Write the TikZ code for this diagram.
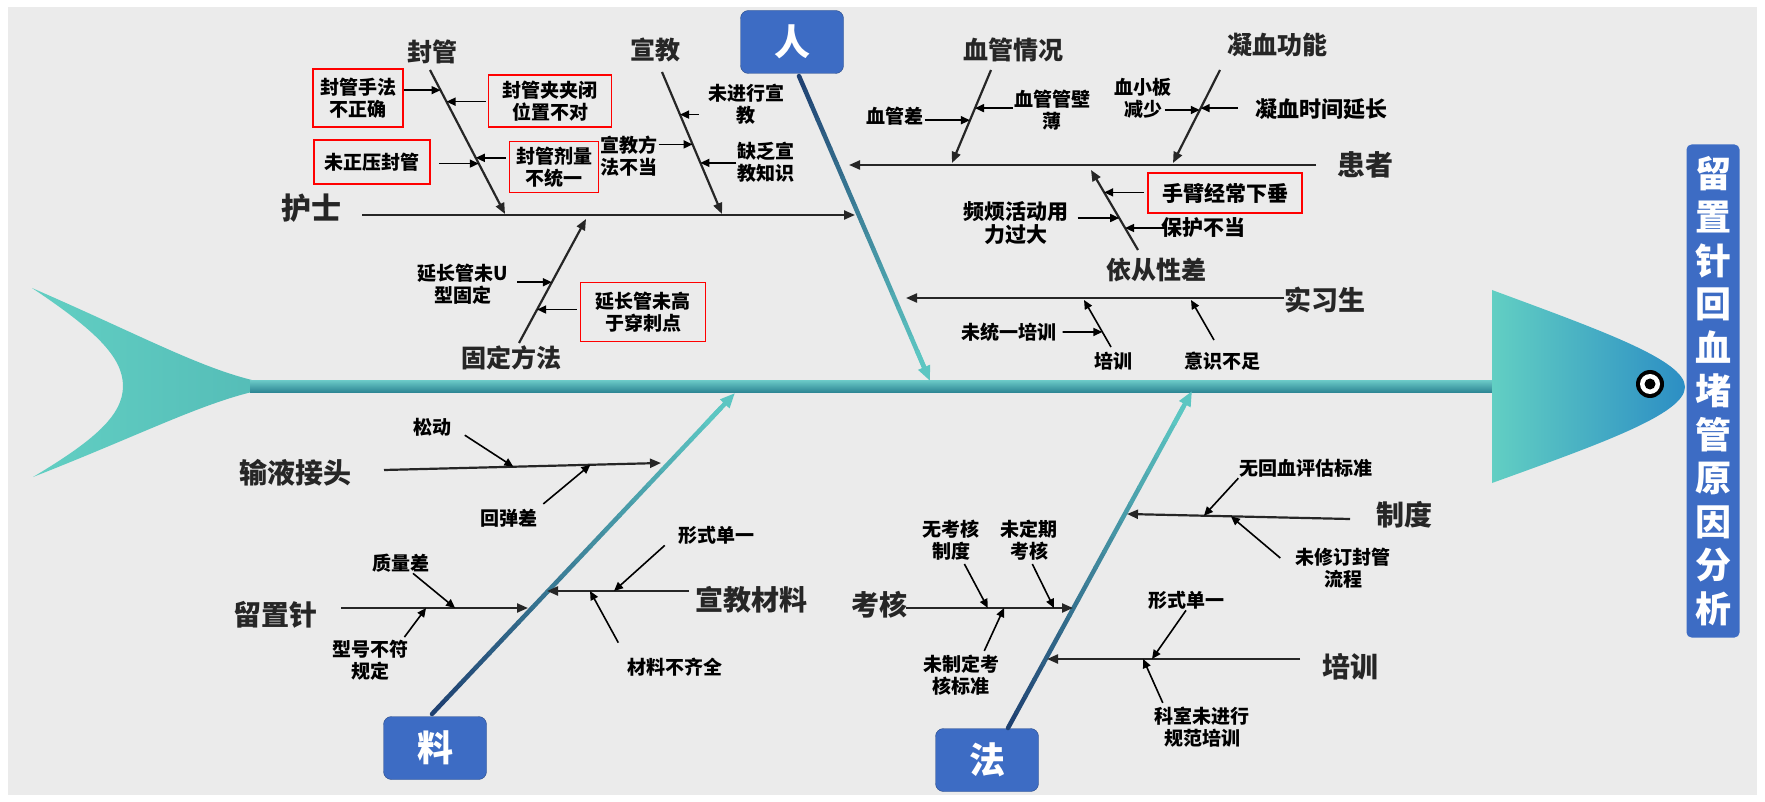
\documentclass[tikz,border=0pt]{standalone}
\usepackage{fontspec}
\setmainfont{Noto Sans CJK SC}
\usetikzlibrary{arrows.meta,positioning,calc}
\definecolor{bggray}{HTML}{EBEBEB}
\definecolor{fishteal}{HTML}{62CFC3}
\definecolor{fishblue}{HTML}{2C8EC4}
\definecolor{spinetop}{HTML}{6CCBC8}
\definecolor{spinebot}{HTML}{2E8795}
\definecolor{bonedark}{HTML}{1D3B6E}
\definecolor{bonelight}{HTML}{5CC6C2}
\definecolor{boxblue}{HTML}{3D6CC4}
\tikzset{
    % Category label (bone name)
    cat/.style={font=\bfseries\fontsize{25}{25}\selectfont, text=black!85, inner sep=1pt},
    catbig/.style={cat, font=\bfseries\fontsize{28}{28}\selectfont},
    % Cause text
    cause/.style={font=\bfseries\fontsize{19}{22}\selectfont, align=center, inner sep=1pt},
    % Highlighted cause
    redbox/.style={cause, draw=red, line width=1.8pt, inner sep=4pt},
    % Blue category box
    catbox/.style={fill=boxblue, draw=boxblue!70!black, rounded corners=8pt, text=white,
        font=\bfseries\fontsize{36}{36}\selectfont, minimum width=103pt, minimum height=63pt},
    % Branch line
    bone/.style={line width=2.2pt, black!85, -{Triangle[length=11pt,width=9pt]}},
    % Small cause arrow
    sub/.style={line width=1.6pt, black, -{Triangle[length=9pt,width=8pt]}}
}
\begin{document}
\begin{tikzpicture}[x=1pt,y=-1pt]
    \useasboundingbox (0,0) rectangle (1765,802);
    % Background
    \fill[white] (0,0) rectangle (1765,802);
    \fill[bggray] (8,7) rectangle (1757,795);

    % Tail, spine and head
    \shade[left color=fishteal, right color=fishteal!75!spinebot]
        (32,288) .. controls (140,335) and (200,368) .. (256,381) -- (256,391)
        .. controls (200,404) and (140,435) .. (33,477)
        .. controls (95,440) and (123,415) .. (123,386)
        .. controls (123,357) and (95,330) .. (32,288) -- cycle;
    \shade[top color=spinetop, bottom color=spinebot] (250,380) rectangle (1494,392);
    \shade[left color=fishteal, right color=fishblue]
        (1492,290) .. controls (1600,330) and (1685,360) .. (1685,387)
        .. controls (1685,414) and (1600,444) .. (1492,483) -- cycle;
    \fill[black] (1650,384) circle (14);
    \fill[white] (1650,384) circle (10);
    \fill[black] (1650,384) circle (5.5);

    % Title
    \node[fill=boxblue, rounded corners=5pt, text=white, align=center, inner sep=0pt,
        font=\bfseries\fontsize{36}{43.5}\selectfont, minimum width=53pt, minimum height=493pt]
        (title) at (1713,391) {留\\置\\针\\回\\血\\堵\\管\\原\\因\\分\\析};

    % Category boxes
    \node[catbox] (ren) at (792,42) {人};
    \node[catbox] (liao) at (435,748) {料};
    \node[catbox] (fa) at (987,760) {法};

    % Main bones, dark at the box and light at the spine
    \coordinate (ren1) at (799,76);   \coordinate (ren2) at (930,381);
    \coordinate (liao1) at (432,714); \coordinate (liao2) at (735,393);
    \coordinate (fa1) at (1008,728);  \coordinate (fa2) at (1192,391);
    \foreach \bstart/\bend in {ren1/ren2, liao1/liao2, fa1/fa2} {
        \foreach \i in {1,...,20} {
            \pgfmathsetmacro\pct{5*\i}
            \draw[line width=4.5pt, line cap=round, color=bonelight!\pct!bonedark]
                ($(\bstart)!{(\i-1)/21}!(\bend)$) -- ($(\bstart)!{\i/21}!(\bend)$);
        }
        \draw[line width=4.5pt, bonelight, -{Triangle[length=15pt,width=12pt]}]
            ($(\bstart)!.9!(\bend)$) -- (\bend);
    }

    % ---- 人: 护士 ----
    \node[cat, font=\bfseries\fontsize{30}{30}\selectfont] (hushi) at (311,208) {护士};
    \coordinate (hs1) at (362,215); \coordinate (hs2) at (855,215);
    \draw[bone] (hs1) -- (hs2);

    % 封管
    \coordinate (fg1) at (430,70); \coordinate (fg2) at (505,214);
    \node[cat] (fengguan) at (432,52) {封管};
    \draw[bone] (fg1) -- (fg2) coordinate[pos=.14] (fg-a) coordinate[pos=.22] (fg-b)
        coordinate[pos=.61] (fg-c) coordinate[pos=.65] (fg-d);
    \node[redbox, minimum width=90pt, minimum height=58pt] (fg-sf) at (358,98) {封管手法\\不正确};
    \draw[sub] (fg-sf.east |- fg-a) -- (fg-a);
    \node[redbox, minimum width=123pt, minimum height=52pt] (fg-jb) at (550,101) {封管夹夹闭\\位置不对};
    \draw[sub, shorten <=2pt] (fg-jb.west |- fg-b) -- (fg-b);
    \node[redbox, minimum width=116pt, minimum height=44pt] (fg-zy) at (372,162) {未正压封管};
    \draw[sub, shorten <=8pt] (fg-zy.east |- fg-d) -- (fg-d);
    \node[redbox, minimum width=89pt, minimum height=51pt] (fg-jl) at (554,167) {封管剂量\\不统一};
    \draw[sub, shorten <=3pt] (fg-jl.west |- fg-c) -- (fg-c);

    % 宣教
    \coordinate (xj1) at (662,72); \coordinate (xj2) at (722,214);
    \node[cat] (xuanjiao) at (655,50) {宣教};
    \draw[bone] (xj1) -- (xj2) coordinate[pos=.30] (xj-a) coordinate[pos=.51] (xj-b)
        coordinate[pos=.64] (xj-c);
    \node[cause] (xj-wj) at (746,104) {未进行宣\\教};
    \draw[sub, shorten <=8pt] (xj-wj.west |- xj-a) -- (xj-a);
    \node[cause] (xj-ff) at (629,156) {宣教方\\法不当};
    \draw[sub] (xj-ff.east |- xj-b) -- (xj-b);
    \node[cause] (xj-qf) at (766,162) {缺乏宣\\教知识};
    \draw[sub] (xj-qf.west |- xj-c) -- (xj-c);

    % 固定方法
    \coordinate (gd1) at (519,343); \coordinate (gd2) at (586,219);
    \node[cat] (guding) at (511,358) {固定方法};
    \draw[bone] (gd1) -- (gd2) coordinate[pos=.49] (gd-a) coordinate[pos=.27] (gd-b);
    \node[cause] (gd-wu) at (463,284) {延长管未U\\型固定};
    \draw[sub, shorten <=8pt] (gd-wu.east |- gd-a) -- (gd-a);
    \node[redbox, minimum width=125pt, minimum height=59pt] (gd-gy) at (643,312) {延长管未高\\于穿刺点};
    \draw[sub, shorten <=3pt] (gd-gy.west |- gd-b) -- (gd-b);

    % ---- 人: 患者 ----
    \node[cat, font=\bfseries\fontsize{28}{28}\selectfont] (huanzhe) at (1365,165) {患者};
    \coordinate (hz1) at (1316,165); \coordinate (hz2) at (849,165);
    \draw[bone] (hz1) -- (hz2);

    % 血管情况
    \coordinate (xg1) at (991,70); \coordinate (xg2) at (952,163);
    \node[cat] (xueguan) at (1013,50) {血管情况};
    \draw[bone] (xg1) -- (xg2) coordinate[pos=.41] (xg-a) coordinate[pos=.54] (xg-b);
    \node[cause] (xg-c) at (895,116) {血管差};
    \draw[sub] (xg-c.east |- xg-b) -- (xg-b);
    \node[cause] (xg-bb) at (1052,110) {血管管壁\\薄};
    \draw[sub] (xg-bb.west |- xg-a) -- (xg-a);

    % 凝血功能
    \coordinate (nx1) at (1220,70); \coordinate (nx2) at (1173,163);
    \node[cat] (ningxue) at (1277,45) {凝血功能};
    \draw[bone] (nx1) -- (nx2) coordinate[pos=.41] (nx-a) coordinate[pos=.43] (nx-b);
    \node[cause] (nx-xb) at (1143,98) {血小板\\减少};
    \draw[sub, shorten <=-8pt] (nx-xb.east |- nx-b) -- (nx-b);
    \node[cause, font=\bfseries\fontsize{22}{22}\selectfont, anchor=west] (nx-sj) at (1254,109) {凝血时间延长};
    \draw[sub, shorten <=16pt] (nx-sj.west |- nx-a) -- (nx-a);

    % 依从性差
    \coordinate (yc1) at (1138,250); \coordinate (yc2) at (1091,170);
    \node[cat] (yicong) at (1156,270) {依从性差};
    \draw[bone] (yc1) -- (yc2) coordinate[pos=.72] (yc-a) coordinate[pos=.40] (yc-b)
        coordinate[pos=.275] (yc-c);
    \node[redbox, font=\bfseries\fontsize{21}{21}\selectfont, minimum width=154pt, minimum height=40pt]
        (yc-xc) at (1225,193) {手臂经常下垂};
    \draw[sub, shorten <=3pt] (yc-xc.west |- yc-a) -- (yc-a);
    \node[cause, font=\bfseries\fontsize{21}{23}\selectfont] (yc-pf) at (1016,223) {频烦活动用\\力过大};
    \draw[sub, shorten <=8pt] (yc-pf.east |- yc-b) -- (yc-b);
    \node[cause, font=\bfseries\fontsize{21}{21}\selectfont] (yc-bh) at (1203,228) {保护不当};
    \draw[sub, shorten <=-6pt] (yc-bh.west |- yc-c) -- (yc-c);

    % ---- 人: 实习生 ----
    \node[cat, font=\bfseries\fontsize{27}{27}\selectfont] (shixi) at (1325,300) {实习生};
    \coordinate (sx1) at (1284,298); \coordinate (sx2) at (906,298);
    \draw[bone] (sx1) -- (sx2);
    \coordinate (px1) at (1111,347); \coordinate (px2) at (1084,300);
    \coordinate (ys1) at (1214,340); \coordinate (ys2) at (1191,300);
    \node[cause] (peixun) at (1113,361) {培训};
    \node[cause] (yishi) at (1222,361) {意识不足};
    \draw[sub] (px1) -- (px2) coordinate[pos=.32] (px-a);
    \draw[sub] (ys1) -- (ys2);
    \node[cause] (px-wt) at (1009,332) {未统一培训};
    \draw[sub, shorten <=5pt] (px-wt.east) -- (px-a);

    % ---- 料: 输液接头 ----
    \coordinate (sy1) at (384,470); \coordinate (sy2) at (661,463);
    \node[catbig] (shuye) at (295,473) {输液接头};
    \draw[bone] (sy1) -- (sy2) coordinate[pos=.467] (sy-a) coordinate[pos=.745] (sy-b);
    \node[cause] (sy-sd) at (432,427) {松动};
    \draw[sub, shorten <=15pt] (sy-sd.east) -- (sy-a);
    \node[cause] (sy-ht) at (509,518) {回弹差};
    \draw[sub, shorten <=6pt] (sy-ht.north east) -- (sy-b);

    % 留置针
    \coordinate (lz1) at (341,608); \coordinate (lz2) at (528,608);
    \node[catbig] (liuzhi) at (275,615) {留置针};
    \draw[bone] (lz1) -- (lz2) coordinate[pos=.61] (lz-a) coordinate[pos=.455] (lz-b);
    \node[cause] (lz-zl) at (401,563) {质量差};
    \draw[sub] ([xshift=12pt]lz-zl.south) -- (lz-a);
    \node[cause] (lz-xh) at (370,660) {型号不符\\规定};
    \draw[sub, shorten <=2pt] ([xshift=-6pt]lz-xh.north east) -- (lz-b);

    % 宣教材料
    \coordinate (xc1) at (689,591); \coordinate (xc2) at (547,591);
    \node[catbig] (xjcl) at (751,600) {宣教材料};
    \draw[bone] (xc1) -- (xc2) coordinate[pos=.528] (xc-a) coordinate[pos=.697] (xc-b);
    \node[cause] (xc-xs) at (716,535) {形式单一};
    \draw[sub] ([xshift=-12pt]xc-xs.south west) -- (xc-a);
    \node[cause] (xc-cl) at (675,667) {材料不齐全};
    \draw[sub] ([xshift=-8pt,yshift=14pt]xc-cl.north west) -- (xc-b);

    % ---- 法: 制度 ----
    \coordinate (zd1) at (1350,519); \coordinate (zd2) at (1127,514);
    \node[catbig] (zhidu) at (1404,515) {制度};
    \draw[bone] (zd1) -- (zd2) coordinate[pos=.655] (zd-a) coordinate[pos=.534] (zd-b);
    \node[cause] (zd-wh) at (1306,468) {无回血评估标准};
    \draw[sub] (zd-wh.south west) -- (zd-a);
    \node[cause] (zd-wx) at (1343,568) {未修订封管\\流程};
    \draw[sub] ([xshift=-14pt,yshift=10pt]zd-wx.west) -- (zd-b);

    % 考核
    \coordinate (kh1) at (906,608); \coordinate (kh2) at (1073,608);
    \node[catbig] (kaohe) at (879,605) {考核};
    \draw[bone] (kh1) -- (kh2) coordinate[pos=.49] (kh-a) coordinate[pos=.886] (kh-b)
        coordinate[pos=.587] (kh-c);
    \node[cause] (kh-wz) at (951,540) {无考核\\制度};
    \draw[sub, shorten <=3pt] ([xshift=12pt]kh-wz.south) -- (kh-a);
    \node[cause] (kh-dq) at (1029,540) {未定期\\考核};
    \draw[sub, shorten <=3pt] ([xshift=2pt]kh-dq.south) -- (kh-b);
    \node[cause] (kh-bz) at (961,675) {未制定考\\核标准};
    \draw[sub, shorten <=3pt] ([xshift=22pt]kh-bz.north) -- (kh-c);

    % 培训
    \coordinate (pt1) at (1300,659); \coordinate (pt2) at (1047,659);
    \node[catbig] (peixun2) at (1350,667) {培训};
    \draw[bone] (pt1) -- (pt2) coordinate[pos=.585] (pt-a) coordinate[pos=.62] (pt-b);
    \node[cause] (pt-xs) at (1186,600) {形式单一};
    \draw[sub] (pt-xs.south) -- (pt-a);
    \node[cause] (pt-ks) at (1202,727) {科室未进行\\规范培训};
    \draw[sub, shorten <=3pt] ([xshift=-38pt]pt-ks.north) -- (pt-b);
\end{tikzpicture}
\end{document}
